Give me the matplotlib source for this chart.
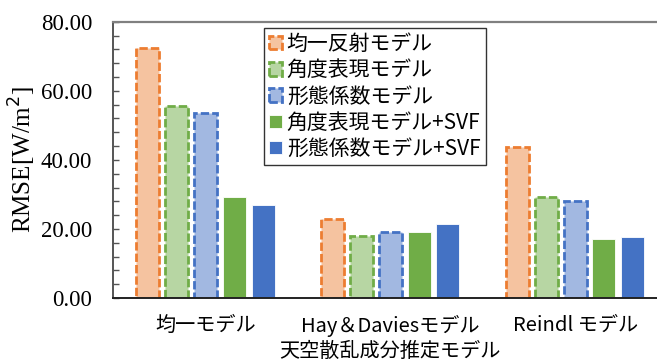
import matplotlib
matplotlib.use("Agg")
import matplotlib.pyplot as plt
import numpy as np
from matplotlib.ticker import MultipleLocator

# RMSE of each sky diffuse model, per reflection model
groups = ["均一モデル", "Hay＆Daviesモデル", "Reindl モデル"]
series = ["均一反射モデル", "角度表現モデル", "形態係数モデル",
          "角度表現モデル+SVF", "形態係数モデル+SVF"]
uniform = [72.5, 22.8, 43.7]
angle = [55.7, 18.1, 29.4]
viewfactor = [53.7, 19.0, 28.1]
angle_svf = [29.2, 19.2, 17.1]
viewfactor_svf = [26.9, 21.5, 17.7]

values = [uniform, angle, viewfactor, angle_svf, viewfactor_svf]
fills = ["#F5C3A0", "#B7D6A3", "#A2B8E1", "#70AD47", "#4472C4"]
edges = ["#ED7D31", "#70AD47", "#4472C4", None, None]

jp = ["Noto Sans CJK JP", "DejaVu Sans"]
serif = "Liberation Serif"

fig = plt.figure(figsize=(6.57, 3.63), dpi=100)
ax = fig.add_axes([0.172, 0.179, 0.844, 0.761])

x = np.arange(len(groups))
pitch = 0.156
width = 0.124
for i, (vals, fc, ec) in enumerate(zip(values, fills, edges)):
    pos = x + (i - 2) * pitch
    if ec is None:
        ax.bar(pos, vals, width=width, color=fc, edgecolor="white",
               linewidth=0.6, label=series[i], zorder=2)
    else:
        ax.bar(pos, vals, width=width, color=fc, edgecolor=ec,
               linewidth=2.0, linestyle=(0, (3.0, 1.1)), label=series[i],
               zorder=2)

ax.set_xlim(-0.5, 2.5)
ax.set_ylim(0, 80)
ax.yaxis.set_major_locator(MultipleLocator(20))
ax.yaxis.set_minor_locator(MultipleLocator(4))
ax.yaxis.set_major_formatter(matplotlib.ticker.FormatStrFormatter("%.2f"))
ax.tick_params(axis="y", which="both", direction="in", length=4,
               width=1, color="#555555", pad=15)
ax.tick_params(axis="x", length=0, pad=12)
for lab in ax.get_yticklabels():
    lab.set_fontfamily(serif)
    lab.set_fontsize(16.5)

ax.set_xticks(x)
ax.set_xticklabels(groups, fontfamily=jp, fontsize=14.5)
ax.set_xlabel("天空散乱成分推定モデル", fontfamily=jp, fontsize=14.5,
              labelpad=3)
ax.set_ylabel("RMSE[W/m$^2$]", fontfamily=serif, fontsize=18, labelpad=2)

ax.spines["top"].set_color("#808080")
ax.spines["top"].set_linewidth(1.6)
ax.spines["left"].set_color("#555555")
ax.spines["left"].set_linewidth(1.4)
ax.spines["bottom"].set_color("#222222")
ax.spines["bottom"].set_linewidth(1.4)
ax.spines["right"].set_visible(False)

leg = ax.legend(loc="upper left", bbox_to_anchor=(0.272, 0.978),
                borderaxespad=0, prop={"family": jp, "size": 15},
                frameon=True, fancybox=False, edgecolor="black",
                handlelength=0.6, handleheight=0.6, handletextpad=0.25,
                labelspacing=0.2, borderpad=0.25)
leg.get_frame().set_linewidth(1.0)

fig.savefig("out.png", dpi=100)
